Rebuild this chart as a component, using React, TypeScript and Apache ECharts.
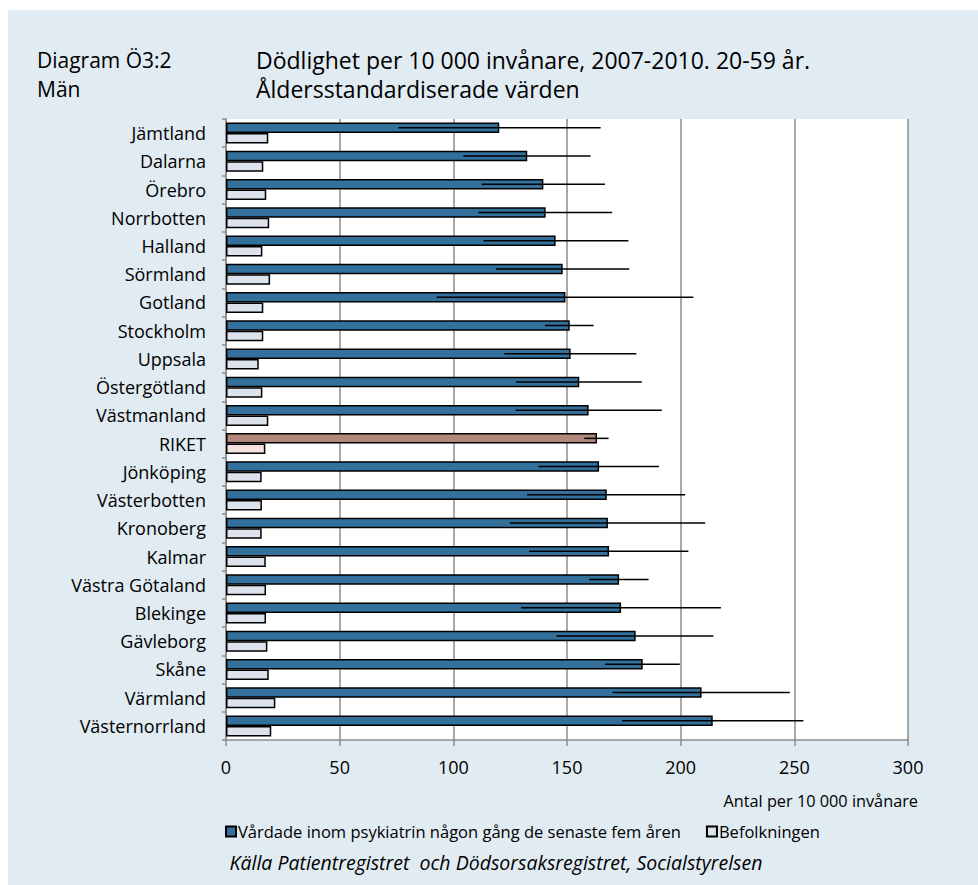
import React, { useEffect, useRef } from "react";
import * as echarts from "echarts";

const categories = [
  "Jämtland", "Dalarna", "Örebro", "Norrbotten", "Halland", "Sörmland", "Gotland",
  "Stockholm", "Uppsala", "Östergötland", "Västmanland", "RIKET", "Jönköping",
  "Västerbotten", "Kronoberg", "Kalmar", "Västra Götaland", "Blekinge", "Gävleborg",
  "Skåne", "Värmland", "Västernorrland",
];
const psykiatri = [
  120.2, 132.5, 139.6, 140.6, 145.0, 148.1, 149.3, 151.2, 151.6, 155.4, 159.5,
  163.2, 164.1, 167.5, 168.0, 168.5, 172.9, 173.8, 180.2, 183.3, 209.2, 214.1,
];
const psykiatriLow = [
  75.8, 104.4, 112.5, 111.0, 113.2, 118.8, 92.7, 140.3, 122.4, 127.6, 127.4,
  157.6, 137.4, 132.5, 124.9, 133.3, 159.7, 129.8, 145.3, 166.7, 170.1, 174.2,
];
const psykiatriHigh = [
  164.8, 160.4, 166.7, 169.9, 177.0, 177.4, 205.6, 161.7, 180.5, 182.9, 191.7,
  168.3, 190.5, 202.0, 210.8, 203.4, 185.9, 217.7, 214.4, 199.6, 248.0, 254.0,
];
const befolkningen = [
  18.6, 16.4, 17.7, 19.0, 16.0, 19.4, 16.4, 16.4, 14.4, 16.0, 18.6,
  17.3, 15.7, 15.8, 15.7, 17.5, 17.6, 17.6, 18.2, 18.8, 21.7, 19.9,
];
const xTicks = { min: 0, max: 300, interval: 50 };

const FONT = "'Open Sans', sans-serif";
const BLUE = "#33709B";
const LIGHT = "#DDE3EC";
const RIKET_DARK = "#B2867B";
const RIKET_LIGHT = "#F3E2DE";
const GRID_GRAY = "#8C8C8C";
const BAR_W = 10.5;

export default function App() {
  const ref = useRef<HTMLDivElement>(null);
  useEffect(() => {
    if (!ref.current) return;
    const chart = echarts.init(ref.current, undefined, { renderer: "svg" });
    const rIdx = categories.indexOf("RIKET");
    const option: any = {
      animation: false,
      backgroundColor: "#ffffff",
      textStyle: { fontFamily: FONT },
      graphic: [
        { type: "rect", z: -10, shape: { x: 8, y: 10, width: 970, height: 875 }, style: { fill: "#E1EBF2" } },
        { type: "rect", z: -9, shape: { x: 226, y: 119, width: 682, height: 621 }, style: { fill: "#ffffff" } },
        { type: "text", x: 37, y: 60, style: { text: "Diagram Ö3:2", font: `21px ${FONT}`, fill: "#000", verticalAlign: "middle" } },
        { type: "text", x: 37, y: 89, style: { text: "Män", font: `21px ${FONT}`, fill: "#000", verticalAlign: "middle" } },
        { type: "text", x: 256, y: 60, style: { text: "Dödlighet per 10 000 invånare, 2007-2010. 20-59 år.", font: `23px ${FONT}`, fill: "#000", verticalAlign: "middle" } },
        { type: "text", x: 256, y: 89, style: { text: "Åldersstandardiserade värden", font: `23px ${FONT}`, fill: "#000", verticalAlign: "middle" } },
        { type: "text", x: 918, y: 801, style: { text: "Antal per 10 000 invånare", font: `16.3px ${FONT}`, fill: "#000", align: "right", verticalAlign: "middle" } },
        { type: "text", x: 496, y: 862, style: { text: "Källa Patientregistret  och Dödsorsaksregistret, Socialstyrelsen", font: `italic 19.5px ${FONT}`, fill: "#000", align: "center", verticalAlign: "middle" } },
      ],
      legend: {
        left: 220,
        top: 818,
        itemWidth: 10,
        itemHeight: 10,
        itemGap: 25,
        icon: "rect",
        textStyle: { fontFamily: FONT, fontSize: 16.5, color: "#000", padding: [0, 0, 0, -3] },
        data: ["Vårdade inom psykiatrin någon gång de senaste fem åren", "Befolkningen"],
      },
      grid: { left: 226, right: 70, top: 119, bottom: 145, containLabel: false },
      xAxis: {
        type: "value",
        min: xTicks.min,
        max: xTicks.max,
        interval: xTicks.interval,
        axisLine: { show: true, lineStyle: { color: GRID_GRAY, width: 1.5 } },
        axisTick: { show: true, length: 6, lineStyle: { color: GRID_GRAY, width: 1.5 } },
        axisLabel: { color: "#000", fontSize: 18, fontFamily: FONT, margin: 18 },
        splitLine: { show: true, lineStyle: { color: GRID_GRAY, width: 1.5 } },
      },
      yAxis: {
        type: "category",
        inverse: true,
        data: categories,
        axisLine: { show: true, lineStyle: { color: GRID_GRAY, width: 1.5 } },
        axisTick: { show: true, length: 4, lineStyle: { color: GRID_GRAY, width: 1.5 } },
        axisLabel: { color: "#000", fontSize: 18, fontFamily: FONT, margin: 20 },
      },
      series: [
        {
          name: "Vårdade inom psykiatrin någon gång de senaste fem åren",
          type: "bar",
          barWidth: BAR_W,
          barGap: "0%",
          itemStyle: { color: BLUE, borderColor: "#000", borderWidth: 1.5 },
          data: psykiatri.map((v, i) =>
            i === rIdx ? { value: v, itemStyle: { color: RIKET_DARK } } : v
          ),
        },
        {
          name: "Befolkningen",
          type: "bar",
          barWidth: BAR_W,
          barGap: "0%",
          itemStyle: { color: LIGHT, borderColor: "#000", borderWidth: 1.5 },
          data: befolkningen.map((v, i) =>
            i === rIdx ? { value: v, itemStyle: { color: RIKET_LIGHT } } : v
          ),
        },
        {
          name: "err",
          type: "custom",
          z: 10,
          encode: { x: [0, 1], y: 2 },
          data: psykiatriLow.map((lo, i) => [lo, psykiatriHigh[i], i]),
          renderItem: (params: any, api: any) => {
            const idx = api.value(2);
            const p1 = api.coord([api.value(0), idx]);
            const p2 = api.coord([api.value(1), idx]);
            const y = p1[1] - BAR_W / 2;
            return {
              type: "line",
              shape: { x1: p1[0], y1: y, x2: p2[0], y2: y },
              style: { stroke: "#000", lineWidth: 1.5 },
            };
          },
        },
      ],
    };
    chart.setOption(option);
    return () => chart.dispose();
  }, []);
  return (
    <div
      ref={ref}
      style={{ position: "absolute", left: 0, top: 0, width: 978, height: 885 }}
    />
  );
}
